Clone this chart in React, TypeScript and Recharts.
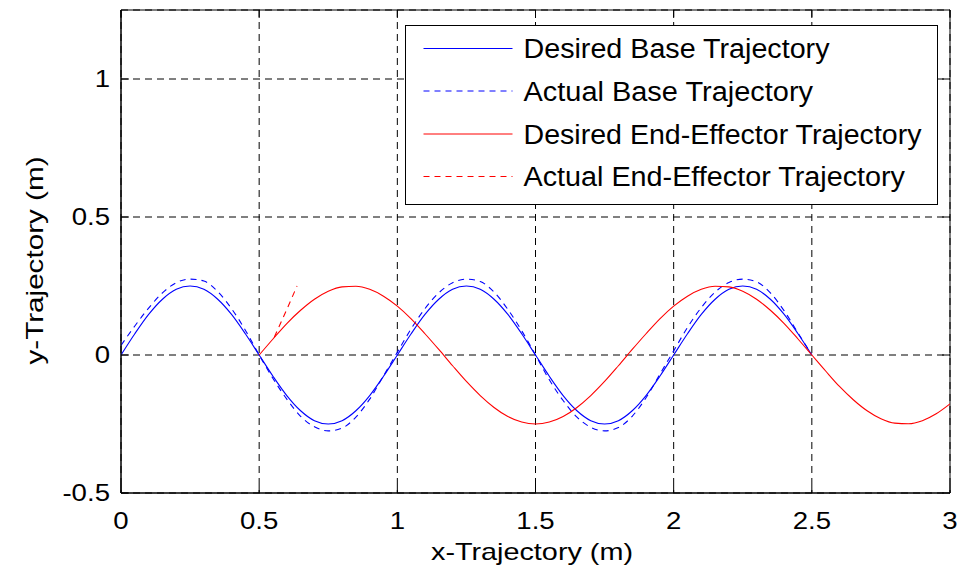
import React from 'react';
import { LineChart, Line, XAxis, YAxis, CartesianGrid, Legend, ReferenceArea, Label } from 'recharts';

const xBase = [0, 0.05, 0.1, 0.15, 0.2, 0.25, 0.3, 0.35, 0.4, 0.45, 0.5, 0.55, 0.6, 0.65, 0.7, 0.75, 0.8, 0.85, 0.9, 0.95,
  1.0, 1.05, 1.1, 1.15, 1.2, 1.25, 1.3, 1.35, 1.4, 1.45, 1.5, 1.55, 1.6, 1.65, 1.7, 1.75, 1.8, 1.85, 1.9, 1.95,
  2.0, 2.05, 2.1, 2.15, 2.2, 2.25, 2.3, 2.35, 2.4, 2.45, 2.5];
const yBaseDesired = [0, 0.077, 0.147, 0.202, 0.238, 0.25, 0.238, 0.202, 0.147, 0.077, 0, -0.077, -0.147, -0.202, -0.238, -0.25, -0.238, -0.202, -0.147, -0.077,
  0, 0.077, 0.147, 0.202, 0.238, 0.25, 0.238, 0.202, 0.147, 0.077, 0, -0.077, -0.147, -0.202, -0.238, -0.25, -0.238, -0.202, -0.147, -0.077,
  0, 0.077, 0.147, 0.202, 0.238, 0.25, 0.238, 0.202, 0.147, 0.077, 0];
const yBaseActual = [0.035, 0.105, 0.17, 0.225, 0.262, 0.275, 0.268, 0.23, 0.168, 0.09, 0, -0.085, -0.16, -0.222, -0.26, -0.275, -0.265, -0.225, -0.16, -0.075,
  0.01, 0.095, 0.168, 0.225, 0.262, 0.275, 0.266, 0.228, 0.165, 0.088, 0, -0.09, -0.165, -0.225, -0.262, -0.275, -0.263, -0.222, -0.155, -0.07,
  0.015, 0.1, 0.172, 0.228, 0.263, 0.275, 0.265, 0.225, 0.16, 0.08, 0];

const xEE = [0.5, 0.55, 0.6, 0.65, 0.7, 0.75, 0.8, 0.85, 0.9, 0.95, 1.0, 1.05, 1.1, 1.15, 1.2, 1.25, 1.3, 1.35, 1.4, 1.45,
  1.5, 1.55, 1.6, 1.65, 1.7, 1.75, 1.8, 1.85, 1.9, 1.95, 2.0, 2.05, 2.1, 2.15, 2.2, 2.25, 2.3, 2.35, 2.4, 2.45,
  2.5, 2.55, 2.6, 2.65, 2.7, 2.75, 2.8, 2.85, 2.9, 2.95, 3.0];
const yEEDesired = [0, 0.058, 0.114, 0.162, 0.202, 0.231, 0.247, 0.249, 0.238, 0.213, 0.177, 0.131, 0.077, 0.02, -0.039, -0.096, -0.147, -0.19, -0.223, -0.243,
  -0.25, -0.243, -0.223, -0.19, -0.147, -0.096, -0.039, 0.02, 0.077, 0.131, 0.177, 0.213, 0.238, 0.249, 0.247, 0.231, 0.202, 0.162, 0.114, 0.058,
  0, -0.058, -0.114, -0.162, -0.202, -0.231, -0.247, -0.249, -0.238, -0.213, -0.177];

const xEEActual = [0.555, 0.6, 0.637];
const yEEActual = [0.065, 0.165, 0.25];

const xTicks = [0, 0.5, 1, 1.5, 2, 2.5, 3];
const yTicks = [-0.5, 0, 0.5, 1];

const seriesNames = [
  'Desired Base Trajectory',
  'Actual Base Trajectory',
  'Desired End-Effector Trajectory',
  'Actual End-Effector Trajectory',
];
const seriesColors = ['#0000ff', '#0000ff', '#ff0000', '#ff0000'];
const seriesDashed = [false, true, false, true];
const legendTextWidths = [306, 289.5, 398, 381.5];

const zip = (xs: number[], ys: number[]) => xs.map((x, i) => ({ x, y: ys[i] }));
const dataBaseDesired = zip(xBase, yBaseDesired);
const dataBaseActual = zip(xBase, yBaseActual);
const dataEEDesired = zip(xEE, yEEDesired);
const dataEEActual = zip(xEEActual, yEEActual);

const W = 958;
const H = 574;
const PLOT_W = 829;
const PLOT_H = 483;
const FONT = '"Liberation Sans", Arial, Helvetica, sans-serif';
const DASH = '6 5';

const XTick = (props: any) => {
  const { x, y, payload } = props;
  const ty = y + 36;
  return (
    <g>
      <line x1={x} y1={y} x2={x} y2={y - 8} stroke="#000" strokeWidth={1} />
      <line x1={x} y1={y - PLOT_H} x2={x} y2={y - PLOT_H + 8} stroke="#000" strokeWidth={1} />
      <text
        x={x}
        y={ty}
        textAnchor="middle"
        fontFamily={FONT}
        fontSize={23}
        fill="#000"
        transform={`translate(${x} 0) scale(1.2 1) translate(${-x} 0)`}
      >
        {String(payload.value)}
      </text>
    </g>
  );
};

const YTick = (props: any) => {
  const { x, y, payload } = props;
  const tx = x - 11;
  return (
    <g>
      <line x1={x} y1={y} x2={x + 8} y2={y} stroke="#000" strokeWidth={1} />
      <line x1={x + PLOT_W} y1={y} x2={x + PLOT_W - 8} y2={y} stroke="#000" strokeWidth={1} />
      <text
        x={tx}
        y={y + 8}
        textAnchor="end"
        fontFamily={FONT}
        fontSize={23}
        fill="#000"
        transform={`translate(${tx} 0) scale(1.2 1) translate(${-tx} 0)`}
      >
        {String(payload.value)}
      </text>
    </g>
  );
};

const XAxisTitle = () => (
  <text x={532} y={560} textAnchor="middle" fontFamily={FONT} fontSize={24} fill="#000"
    textLength={202} lengthAdjust="spacingAndGlyphs">
    x-Trajectory (m)
  </text>
);

const YAxisTitle = () => (
  <text x={43} y={260.5} textAnchor="middle" fontFamily={FONT} fontSize={24} fill="#000"
    transform="rotate(-90 43 260.5)" textLength={208} lengthAdjust="spacingAndGlyphs">
    y-Trajectory (m)
  </text>
);

const LegendBox = () => {
  const bw = 532;
  const bh = 179;
  const baselines = [33, 75.5, 118.5, 161];
  return (
    <svg width={bw + 1} height={bh + 1} style={{ display: 'block' }}>
      <rect x={0.5} y={0.5} width={bw} height={bh} fill="#fff" stroke="#000" strokeWidth={1} />
      {seriesNames.map((name, i) => (
        <g key={name}>
          <line
            x1={18.5}
            x2={107.5}
            y1={baselines[i] - 9.5}
            y2={baselines[i] - 9.5}
            stroke={seriesColors[i]}
            strokeWidth={1}
            strokeDasharray={seriesDashed[i] ? DASH : undefined}
          />
          <text x={118.5} y={baselines[i]} fontFamily={FONT} fontSize={27} fill="#000"
            textLength={legendTextWidths[i]} lengthAdjust="spacingAndGlyphs">
            {name}
          </text>
        </g>
      ))}
    </svg>
  );
};

export default function App() {
  return (
    <div style={{ position: 'absolute', left: 0, top: 0, width: W, height: H, background: '#fff' }}>
      <LineChart width={W} height={H} margin={{ top: 10, right: 8, bottom: 0, left: 0 }}>
        <CartesianGrid stroke="#000" strokeDasharray="7 5" strokeWidth={1} />
        <XAxis
          type="number"
          dataKey="x"
          domain={[0, 3]}
          ticks={xTicks}
          interval={0}
          allowDataOverflow
          height={81}
          tickSize={0}
          tickMargin={0}
          tick={<XTick />}
          axisLine={{ stroke: '#000', strokeWidth: 1 }}
        >
          <Label content={<XAxisTitle />} />
        </XAxis>
        <YAxis
          type="number"
          domain={[-0.5, 1.25]}
          ticks={yTicks}
          interval={0}
          allowDataOverflow
          width={121}
          tickSize={0}
          tickMargin={0}
          tick={<YTick />}
          axisLine={{ stroke: '#000', strokeWidth: 1 }}
        >
          <Label content={<YAxisTitle />} />
        </YAxis>
        <ReferenceArea x1={0} x2={3} y1={-0.5} y2={1.25} fill="none" stroke="#000" strokeWidth={1} />
        <Line data={dataBaseDesired} dataKey="y" name={seriesNames[0]} type="monotone" stroke={seriesColors[0]}
          strokeWidth={1.1} dot={false} isAnimationActive={false} />
        <Line data={dataBaseActual} dataKey="y" name={seriesNames[1]} type="monotone" stroke={seriesColors[1]}
          strokeWidth={1.1} strokeDasharray={DASH} dot={false} isAnimationActive={false} />
        <Line data={dataEEDesired} dataKey="y" name={seriesNames[2]} type="monotone" stroke={seriesColors[2]}
          strokeWidth={1.1} dot={false} isAnimationActive={false} />
        <Line data={dataEEActual} dataKey="y" name={seriesNames[3]} type="linear" stroke={seriesColors[3]}
          strokeWidth={1.1} strokeDasharray={DASH} dot={false} isAnimationActive={false} />
        <Legend
          layout="horizontal"
          align="center"
          verticalAlign="middle"
          content={<LegendBox />}
          wrapperStyle={{ position: 'absolute', left: 405, top: 25, width: 533, height: 180 }}
        />
      </LineChart>
    </div>
  );
}
